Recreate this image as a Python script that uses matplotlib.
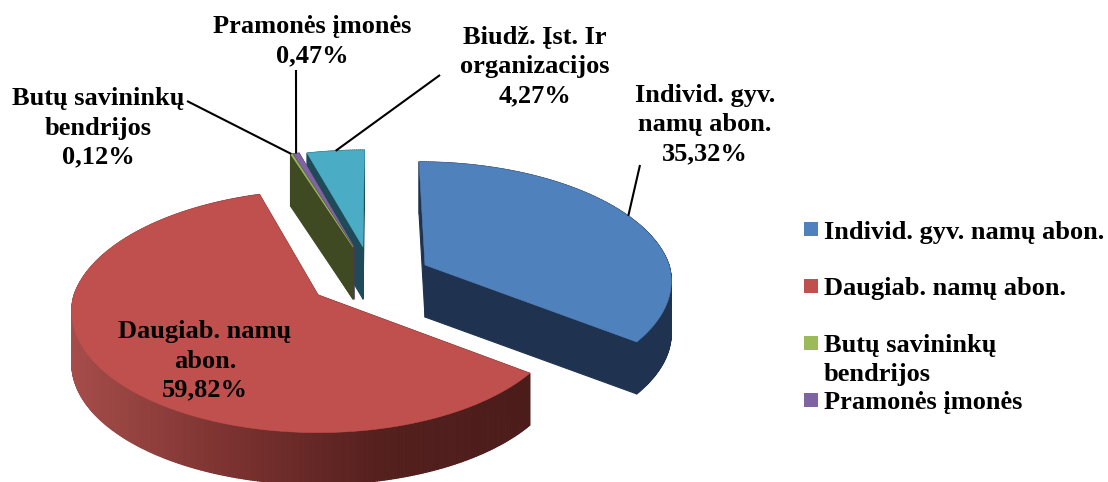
import numpy as np
import matplotlib
matplotlib.use("Agg")
import matplotlib.pyplot as plt
from matplotlib.collections import PolyCollection
from matplotlib.colors import LinearSegmentedColormap
from matplotlib.patches import Rectangle

# pie data
names = [
    "Individ. gyv. namų abon.",
    "Daugiab. namų abon.",
    "Butų savininkų\nbendrijos",
    "Pramonės įmonės",
    "Biudž. Įst. Ir organizacijos",
]
values = [35.32, 59.82, 0.12, 0.47, 4.27]
value_labels = ["35,32%", "59,82%", "0,12%", "0,47%", "4,27%"]
label_names = [
    "Individ. gyv.\nnamų abon.",
    "Daugiab. namų\nabon.",
    "Butų savininkų\nbendrijos",
    "Pramonės įmonės",
    "Biudž. Įst. Ir\norganizacijos",
]

# look of each slice
top_colors = ["#4F81BD", "#C0504D", "#9BBB59", "#8064A2", "#4BACC6"]
wall_colors = ["#1F3350", None, "#3F4A23", "#4A3860", "#1F4A57"]
centers = [(425, 265), (318, 295), (353, 247), (354, 247), (363, 247)]
radius_y = [117, 119, 110, 110, 110]
draw_order = [4, 3, 2, 1, 0]
label_pos = [(705, 125), (205, 361), (98, 128), (312, 41), (535, 67)]
leader_start = [(640, 165), None, (187, 101), (296, 70), (440, 75)]
legend_y = [229, 286, 343, 400]
legend_text_y = [232, 289, 360, 402]

RX = 244
DEPTH = 52
PERSP = 0.135
VANISH_X = 375

red_wall = LinearSegmentedColormap.from_list(
    "red_wall", ["#A64D4A", "#7D3331", "#55201E", "#4A1C1A"]
)


def project(i, deg):
    # clockwise from the top of the pie, tilted with a bit of perspective
    a = np.radians(deg)
    u, v = np.sin(a), np.cos(a)
    s = 1 / (1 + PERSP * v)
    cx, cy = centers[i]
    lean = np.where(v > 0, (VANISH_X - cx) * (1 - s), 0)
    x = cx + u * RX * s + lean
    y = cy - v * radius_y[i] * s
    return x, y


edges = np.concatenate([[0], np.cumsum(values)]) * 3.6

fig, ax = plt.subplots(figsize=(11.08, 4.82), dpi=100)
fig.subplots_adjust(0, 0, 1, 1)
ax.set_xlim(0, 1108)
ax.set_ylim(482, 0)
ax.axis("off")

plt.rcParams["font.family"] = ["Liberation Serif", "DejaVu Serif"]
text_style = dict(fontsize=19, fontweight="bold", color="black")

for i in draw_order:
    n = max(3, int((edges[i + 1] - edges[i]) / 0.5))
    xs, ys = project(i, np.linspace(edges[i], edges[i + 1], n))
    cx, cy = centers[i]
    px = np.concatenate([[cx], xs, [cx]])
    py = np.concatenate([[cy], ys, [cy]])

    quads = []
    cols = []
    for k in range(len(px) - 1):
        quads.append(
            [
                (px[k], py[k]),
                (px[k + 1], py[k + 1]),
                (px[k + 1], py[k + 1] + DEPTH),
                (px[k], py[k] + DEPTH),
            ]
        )
        if wall_colors[i] is None:
            cols.append(red_wall((px[k] - 70) / 460))
        else:
            cols.append(wall_colors[i])
    ax.add_collection(
        PolyCollection(quads, facecolors=cols, edgecolors=cols, linewidths=0.8)
    )
    ax.fill(px, py, facecolor=top_colors[i], edgecolor=top_colors[i], linewidth=0.4)

# data labels and their leader lines
for i in range(len(values)):
    ax.text(
        *label_pos[i],
        label_names[i] + "\n" + value_labels[i],
        ha="center",
        va="center",
        linespacing=1.34,
        **text_style,
    )
    if leader_start[i] is not None:
        mid = (edges[i] + edges[i + 1]) / 2
        ex, ey = project(i, mid)
        ax.plot(
            [leader_start[i][0], ex],
            [leader_start[i][1], ey],
            color="black",
            linewidth=1.5,
            solid_capstyle="butt",
        )

# legend, the last entry is cut off in the original
for i in range(4):
    ax.add_patch(
        Rectangle((804, legend_y[i] - 7), 14, 14, facecolor=top_colors[i], edgecolor="none")
    )
    ax.text(
        824,
        legend_text_y[i],
        names[i],
        ha="left",
        va="center",
        linespacing=1.34,
        **text_style,
    )

fig.savefig("out.png", dpi=100)
